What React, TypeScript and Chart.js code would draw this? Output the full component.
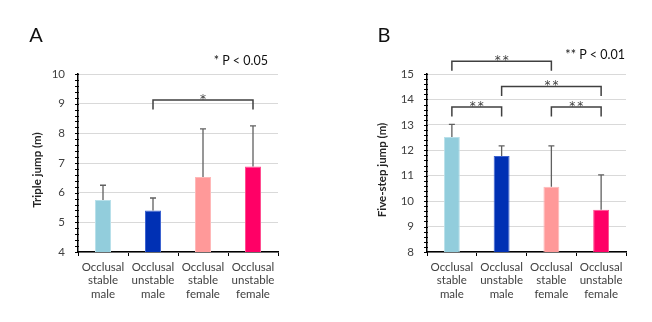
import React, { useEffect, useRef } from 'react';
import { Chart, registerables } from 'chart.js';

Chart.register(...registerables);

const categories = [
  ['Occlusal', 'stable', 'male'],
  ['Occlusal', 'unstable', 'male'],
  ['Occlusal', 'stable', 'female'],
  ['Occlusal', 'unstable', 'female'],
];
const barColors = ['#92CDDC', '#0030B4', '#FF9999', '#FF0066'];
const barBorders = ['#B8E0EA', '#3D63D0', '#FFB8B8', '#FF4D90'];

const tripleMeans = [5.75, 5.4, 6.53, 6.88];
const tripleSD = [0.5, 0.42, 1.62, 1.37];
const tripleBrackets = [{ from: 1, to: 3, value: 9.12, label: '*' }];

const fiveMeans = [12.52, 11.78, 10.57, 9.66];
const fiveSD = [0.5, 0.39, 1.6, 1.37];
const fiveBrackets = [
  { from: 0, to: 2, value: 15.5, label: '**' },
  { from: 1, to: 3, value: 14.51, label: '**' },
  { from: 0, to: 1, value: 13.7, label: '**' },
  { from: 2, to: 3, value: 13.7, label: '**' },
];

const FONT = 'Lato, "Liberation Sans", sans-serif';

type Bracket = { from: number; to: number; value: number; label: string };
type PanelCfg = {
  letter: string;
  letterX: number;
  yTitle: string;
  yTitleX: number;
  pText: string;
  pRight: number;
  pY: number;
  means: number[];
  sd: number[];
  brackets: Bracket[];
  min: number;
  max: number;
  axisLeft: number;
  axisRight: number;
};

function makeChart(canvas: HTMLCanvasElement, cfg: PanelCfg) {
  const overlay = {
    id: 'overlay',
    afterDatasetsDraw(chart: any) {
      const { ctx } = chart;
      const meta = chart.getDatasetMeta(0);
      const y = chart.scales.y;
      ctx.save();
      ctx.strokeStyle = '#606060';
      ctx.lineWidth = 1.3;
      cfg.means.forEach((m, i) => {
        const x = meta.data[i].x;
        const yb = y.getPixelForValue(m);
        const yt = y.getPixelForValue(m + cfg.sd[i]);
        ctx.beginPath();
        ctx.moveTo(x, yb);
        ctx.lineTo(x, yt);
        ctx.moveTo(x - 3, yt);
        ctx.lineTo(x + 3, yt);
        ctx.stroke();
      });
      ctx.restore();
    },
    afterDraw(chart: any) {
      const { ctx, chartArea } = chart;
      const meta = chart.getDatasetMeta(0);
      const y = chart.scales.y;
      ctx.save();
      // minor ticks on y axis
      ctx.strokeStyle = '#000';
      ctx.lineWidth = 1;
      for (let v = cfg.min; v <= cfg.max + 1e-6; v += 0.2) {
        const py = Math.round(y.getPixelForValue(v)) + 0.5;
        ctx.beginPath();
        ctx.moveTo(chartArea.left - 3, py);
        ctx.lineTo(chartArea.left + 1, py);
        ctx.stroke();
      }
      // brackets
      ctx.strokeStyle = '#404040';
      ctx.lineWidth = 1.5;
      ctx.fillStyle = '#404040';
      ctx.font = '12px "DejaVu Sans", sans-serif';
      ctx.textAlign = 'center';
      ctx.textBaseline = 'alphabetic';
      cfg.brackets.forEach((b) => {
        const x1 = meta.data[b.from].x;
        const x2 = meta.data[b.to].x;
        const py = y.getPixelForValue(b.value);
        ctx.beginPath();
        ctx.moveTo(x1, py + 9.5);
        ctx.lineTo(x1, py);
        ctx.lineTo(x2, py);
        ctx.lineTo(x2, py + 9.5);
        ctx.stroke();
        const n = b.label.length;
        const cx = (x1 + x2) / 2;
        for (let k = 0; k < n; k++) {
          ctx.fillText('*', cx + (k - (n - 1) / 2) * 8, py + 2.5);
        }
      });
      // p text
      ctx.fillStyle = '#111';
      ctx.font = `12.5px ${FONT}`;
      ctx.textAlign = 'right';
      ctx.textBaseline = 'middle';
      ctx.fillText(cfg.pText, cfg.pRight, cfg.pY);
      // panel letter
      ctx.font = `20px ${FONT}`;
      ctx.textAlign = 'center';
      ctx.fillText(cfg.letter, cfg.letterX, 36);
      // y title
      ctx.translate(cfg.yTitleX, 170);
      ctx.rotate(-Math.PI / 2);
      ctx.font = `bold 11.5px ${FONT}`;
      ctx.fillStyle = '#262626';
      ctx.fillText(cfg.yTitle, 0, 0);
      ctx.restore();
    },
  };

  return new Chart(canvas, {
    type: 'bar',
    data: {
      labels: categories,
      datasets: [
        {
          data: cfg.means,
          backgroundColor: barColors,
          borderColor: barBorders,
          borderWidth: 1,
          categoryPercentage: 1,
          barPercentage: 0.32,
        },
      ],
    },
    options: {
      responsive: false,
      animation: false,
      devicePixelRatio: 1,
      layout: { padding: { left: 0, top: 74, right: 326 - cfg.axisRight, bottom: 0 } },
      plugins: { legend: { display: false }, tooltip: { enabled: false } },
      scales: {
        x: {
          afterFit: (s: any) => {
            s.height = 70;
          },
          border: { display: true, color: '#000', width: 1.5 },
          grid: {
            display: true,
            drawOnChartArea: false,
            drawTicks: true,
            tickLength: 4,
            tickColor: '#000',
            offset: true,
          },
          ticks: {
            color: '#404040',
            font: { family: FONT, size: 11.5, lineHeight: 1.2 },
            padding: 4,
            maxRotation: 0,
            autoSkip: false,
          },
        },
        y: {
          min: cfg.min,
          max: cfg.max,
          afterFit: (s: any) => {
            s.width = cfg.axisLeft;
          },
          border: { display: true, color: '#000', width: 1.5 },
          grid: { color: '#D9D9D9', lineWidth: 1, drawTicks: false },
          ticks: {
            stepSize: 1,
            color: '#404040',
            font: { family: FONT, size: 11.5 },
            padding: 13,
          },
        },
      },
    },
    plugins: [overlay],
  });
}

const panelA: PanelCfg = {
  letter: 'A',
  letterX: 36,
  yTitle: 'Triple jump (m)',
  yTitleX: 37,
  pText: '* P < 0.05',
  pRight: 268,
  pY: 61,
  means: tripleMeans,
  sd: tripleSD,
  brackets: tripleBrackets,
  min: 4,
  max: 10,
  axisLeft: 78,
  axisRight: 278,
};

const panelB: PanelCfg = {
  letter: 'B',
  letterX: 58,
  yTitle: 'Five-step jump (m)',
  yTitleX: 56,
  pText: '** P < 0.01',
  pRight: 299,
  pY: 55,
  means: fiveMeans,
  sd: fiveSD,
  brackets: fiveBrackets,
  min: 8,
  max: 15,
  axisLeft: 101,
  axisRight: 300,
};

function Panel({ cfg, left }: { cfg: PanelCfg; left: number }) {
  const ref = useRef<HTMLCanvasElement>(null);
  useEffect(() => {
    if (!ref.current) return;
    const c = makeChart(ref.current, cfg);
    return () => c.destroy();
  }, [cfg]);
  return (
    <canvas
      ref={ref}
      width={326}
      height={322}
      style={{ position: 'absolute', left, top: 0, width: 326, height: 322 }}
    />
  );
}

export default function App() {
  return (
    <div style={{ position: 'absolute', left: 0, top: 0, width: 652, height: 322, background: '#fff' }}>
      <Panel cfg={panelA} left={0} />
      <Panel cfg={panelB} left={326} />
    </div>
  );
}
